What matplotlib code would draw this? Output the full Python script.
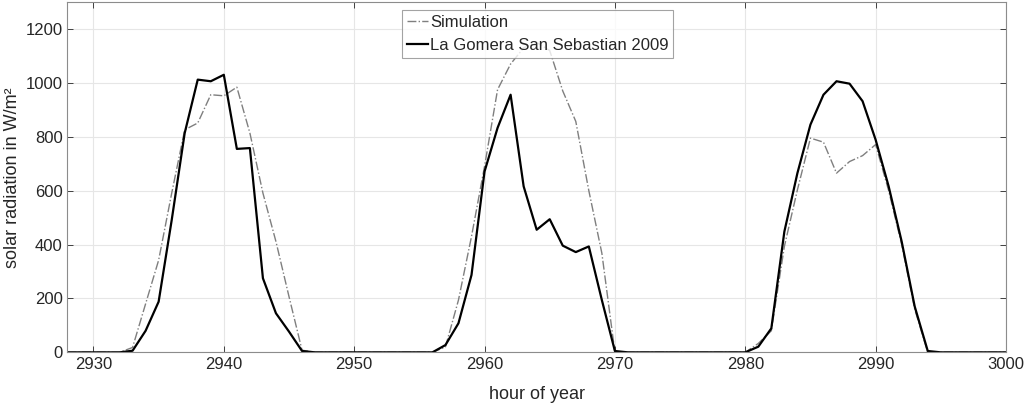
import numpy as np
import matplotlib
matplotlib.use('Agg')
import matplotlib.pyplot as plt

plt.rcParams['font.family'] = ['Liberation Sans', 'DejaVu Sans']

# hour of year 2928 .. 3000
hours = np.arange(2928, 3001)

# measured radiation, La Gomera San Sebastian 2009
measured = [0, 0, 0, 0, 0, 6, 80, 188, 490, 814,
            1012, 1006, 1030, 755, 758, 275, 145, 77, 5, 0,
            0, 0, 0, 0, 0, 0, 0, 0, 0, 27,
            108, 287, 671, 833, 956, 616, 455, 494, 396, 372,
            393, 194, 5, 0, 0, 0, 0, 0, 0, 0,
            0, 0, 0, 21, 89, 448, 665, 845, 956, 1006,
            997, 932, 789, 616, 411, 170, 5, 0, 0, 0,
            0, 0, 0]

# simulated radiation
simulation = [0, 0, 0, 0, 0, 18, 180, 342, 590, 826,
              851, 956, 952, 984, 814, 591, 411, 207, 8, 0,
              0, 0, 0, 0, 0, 0, 0, 0, 0, 20,
              194, 430, 690, 975, 1070, 1130, 1150, 1120, 970, 857,
              600, 368, 0, 0, 0, 0, 0, 0, 0, 0,
              0, 0, 0, 33, 80, 393, 603, 795, 780, 665,
              708, 730, 771, 600, 400, 160, 0, 0, 0, 0,
              0, 0, 0]

xticks = np.arange(2930, 3001, 10)
yticks = np.arange(0, 1201, 200)

txt = '#262626'

fig = plt.figure(figsize=(10.24, 4.05), dpi=100)
ax = fig.add_axes([0.0658, 0.130, 0.9166, 0.865])

ax.plot(hours, simulation, color='#7f7f7f', linestyle='-.', linewidth=1.0, label='Simulation')
ax.plot(hours, measured, color='black', linestyle='-', linewidth=1.6, label='La Gomera San Sebastian 2009')

ax.set_xlim(2928, 3000)
ax.set_ylim(0, 1300)
ax.set_xticks(xticks)
ax.set_yticks(yticks)
ax.grid(True, color='#e6e6e6', linewidth=0.8)
ax.set_axisbelow(True)

ax.tick_params(direction='in', top=True, right=True, labelsize=12, colors=txt,
               length=4, width=0.6)
for tl in ax.get_xticklabels() + ax.get_yticklabels():
    tl.set_color(txt)
for sp in ax.spines.values():
    sp.set_color('#8c8c8c')
    sp.set_linewidth(0.8)

ax.set_xlabel('hour of year', fontsize=13, color=txt, labelpad=10)
ax.set_ylabel('solar radiation in W/m²', fontsize=13, color=txt, labelpad=3)

leg = ax.legend(loc='upper left', bbox_to_anchor=(0.356, 0.977), fontsize=12,
                frameon=True, fancybox=False, handlelength=1.3, handletextpad=0.1,
                borderpad=0.3, labelspacing=0.45, borderaxespad=0)
leg.get_frame().set_edgecolor('#8c8c8c')
leg.get_frame().set_linewidth(0.8)
for t in leg.get_texts():
    t.set_color(txt)

fig.savefig('out.png', dpi=100)
